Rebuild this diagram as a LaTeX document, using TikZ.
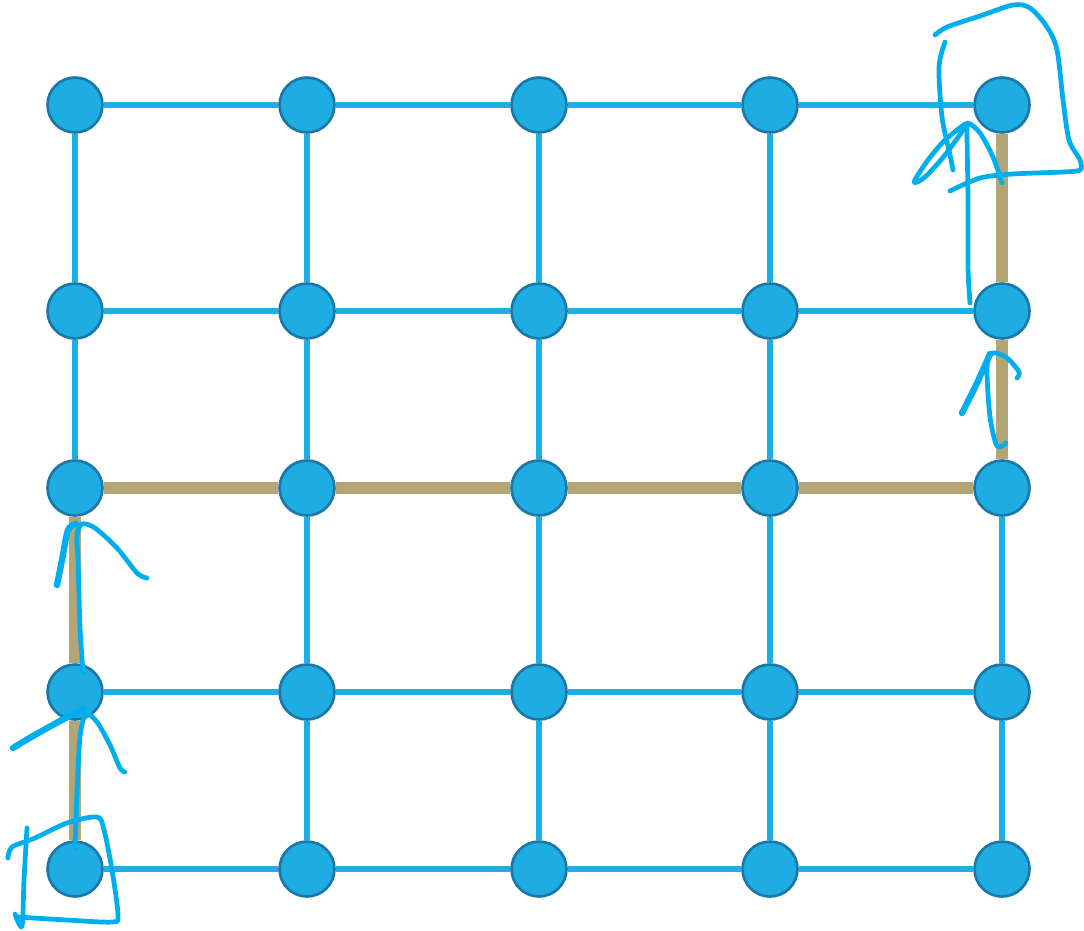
\documentclass[tikz,border=0pt]{standalone}
\usepackage{tikz}
\usetikzlibrary{backgrounds}

\definecolor{nodefill}{HTML}{1EACE2}
\definecolor{nodeedge}{HTML}{1A78A8}
\definecolor{edgeblue}{HTML}{1DAEE3}
\definecolor{routetan}{HTML}{B3A576}
\definecolor{penblue}{HTML}{00AEEF}

\begin{document}
\begin{tikzpicture}[
    x=0.02cm, y=-0.02cm,
    vertex/.style={circle, draw=nodeedge, fill=nodefill, line width=1.5pt, minimum size=1.1cm, inner sep=0pt},
    edge/.style={draw=edgeblue, line width=3.2pt},
    route/.style={draw=routetan, line width=6.6pt},
    pen/.style={draw=penblue, line width=2.7pt, line cap=round, line join=round},
    thickpen/.style={pen, line width=3.6pt}
]
\useasboundingbox (0,0) rectangle (1084,930);

% grid vertices
\foreach \x [count=\i] in {75,307,539,770,1002}
  \foreach \y [count=\j] in {105,311,488,692,869}
    \node[vertex] (v\i\j) at (\x,\y) {};

\begin{pgfonlayer}{background}
% grid edges
\foreach \i in {1,...,5}
  \foreach \j/\k in {1/2,2/3,3/4,4/5}
    \draw[edge] (v\i\j) -- (v\i\k);
\foreach \i/\k in {1/2,2/3,3/4,4/5}
  \foreach \j in {1,...,5}
    \draw[edge] (v\i\j) -- (v\k\j);
% chosen path
\draw[route] (v15) -- (v14);
\draw[route] (v14) -- (v13);
\draw[route] (v13) -- (v23);
\draw[route] (v23) -- (v33);
\draw[route] (v33) -- (v43);
\draw[route] (v43) -- (v53);
\draw[route] (v53) -- (v52);
\draw[route] (v52) -- (v51);
\end{pgfonlayer}

% hand-drawn marks: start box
\draw[pen] plot[smooth] coordinates {(8,858) (12,847) (35,838) (67,823) (97,817) (104,830) (112,870) (118,915) (112,922) (67,920) (18,917)};
\draw[pen] plot[smooth] coordinates {(27,828) (24,880) (22,926) (15,914)};

% arrows up the left column
\draw[pen] plot[smooth] coordinates {(75,848) (77,793) (80,737) (86,714) (97,722) (110,745) (120,768) (125,772)};
\draw[thickpen] plot[smooth] coordinates {(13,748) (33,736) (60,721) (84,709)};
\draw[pen] plot[smooth] coordinates {(83,672) (80,627) (78,560) (77,535) (82,524) (95,528) (117,548) (137,573) (147,578)};
\draw[thickpen] plot[smooth] coordinates {(57,585) (62,560) (68,530) (76,524)};

% arrows up the right column
\draw[pen] plot[smooth] coordinates {(1006,443) (997,446) (990,417) (987,367) (993,353) (1007,358) (1019,372) (1017,378)};
\draw[thickpen] plot[smooth] coordinates {(962,413) (977,383) (990,354)};
\draw[pen] plot[smooth] coordinates {(970,303) (968,267) (968,200) (967,133) (968,123) (980,133) (993,157) (1002,183)};
\draw[pen] plot[smooth] coordinates {(965,124) (945,140) (928,160) (914,182) (925,177) (945,155) (968,123)};

% goal box
\draw[pen] plot[smooth] coordinates {(935,35) (947,27) (980,16) (1013,5) (1030,8) (1047,27) (1057,50) (1063,100) (1069,140) (1080,160) (1080,170) (1063,172) (1013,174) (980,178) (950,191)};
\draw[pen] plot[smooth] coordinates {(945,42) (939,67) (942,117) (950,155) (953,170)};
\end{tikzpicture}
\end{document}
